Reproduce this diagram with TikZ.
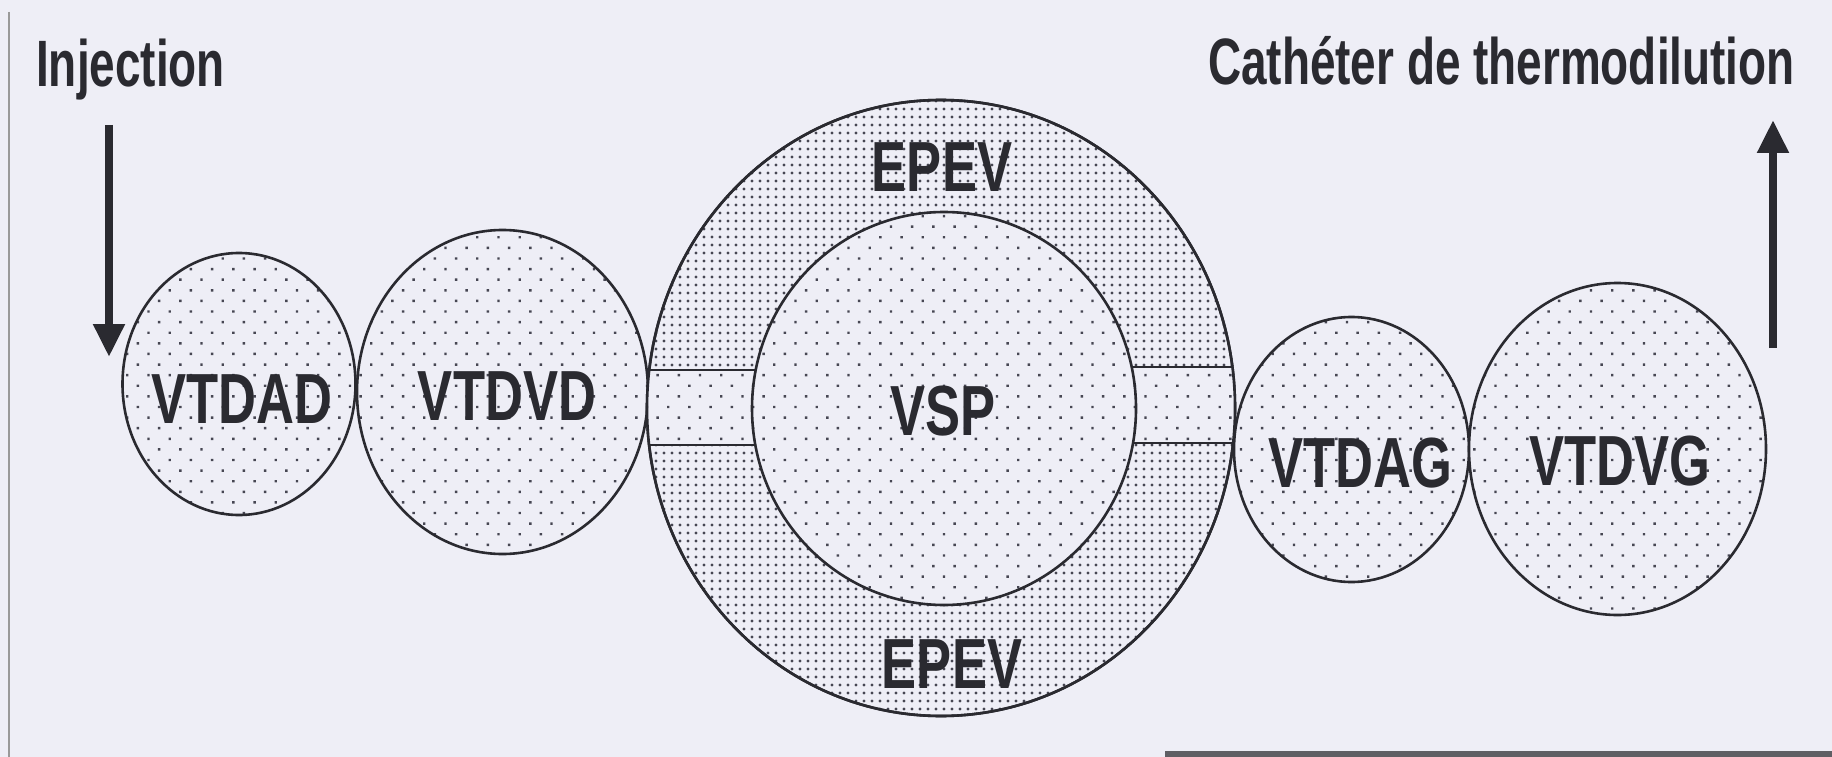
\documentclass[tikz,border=0pt]{standalone}
\usepackage{fontspec}
\newfontfamily\topfont{Liberation Sans}[FakeStretch=0.70]
\newfontfamily\labfont{Liberation Sans}[FakeStretch=0.74]
\usetikzlibrary{patterns.meta,arrows.meta,shapes.geometric}
\definecolor{bg}{RGB}{238,238,246}
\definecolor{ink}{RGB}{42,42,48}
\definecolor{dotc}{RGB}{70,70,82}
\tikzset{
  sparse/.style={preaction={fill=bg}, pattern={Dots[distance=15pt,radius=1.7pt,angle=45]}, pattern color=dotc},
  dense/.style={preaction={fill=bg}, pattern={Dots[distance=8pt,radius=1.7pt]}, pattern color=dotc},
  outline/.style={draw=ink, line width=2.6pt},
  compart/.style={ellipse, inner sep=0pt, outer sep=0pt, outline},
  lab/.style={font=\labfont\bfseries\fontsize{71}{71}\selectfont, text=ink, inner sep=0pt, anchor=base},
  toplab/.style={font=\topfont\bfseries\fontsize{65.6}{66}\selectfont, text=ink, inner sep=0pt},
  bigarrow/.style={draw=ink, line width=8pt, -{Triangle[width=30pt,length=33pt]}},
}
\begin{document}
\begin{tikzpicture}[x=1pt,y=-1pt]
\useasboundingbox (0,0) rectangle (1832,757);
\fill[bg] (0,0) rectangle (1832,757);
\draw[gray!80, line width=1.8pt] (9,12) -- (9,757);
\fill[ink!75] (1165,751) rectangle (1832,757);

% texts
\node[toplab, anchor=base west] (inj) at (36,87) {Injection};
\node[toplab, anchor=base east] (cath) at (1795,85) {Cathéter de thermodilution};

% arrows
\coordinate (injtop) at (109,125);
\coordinate (injtip) at (109,357);
\coordinate (cathbot) at (1773,348);
\coordinate (cathtip) at (1773,120);
\draw[bigarrow] (injtop) -- (injtip);
\draw[bigarrow] (cathbot) -- (cathtip);

% small compartments
\node[compart, sparse, minimum width=233pt, minimum height=262pt] (vtdad) at (239,384) {};
\node[compart, sparse, minimum width=291pt, minimum height=324pt] (vtdvd) at (502.5,392) {};
\node[compart, sparse, minimum width=235pt, minimum height=265pt] (vtdag) at (1351.5,449.5) {};
\node[compart, sparse, minimum width=297pt, minimum height=332pt] (vtdvg) at (1617.5,449) {};

% EPEV ring
\node[compart, dense, minimum width=588pt, minimum height=616pt] (epev) at (941,408) {};
\begin{scope}
  \clip (941,408) ellipse [x radius=294, y radius=308];
  \path[sparse] (600,370) rectangle (800,445);
  \path[sparse] (1090,367) rectangle (1280,443);
  \draw[outline] (600,370) -- (800,370);
  \draw[outline] (600,445) -- (800,445);
  \draw[outline] (1090,367) -- (1280,367);
  \draw[outline] (1090,443) -- (1280,443);
\end{scope}
\draw[outline] (941,408) ellipse [x radius=294, y radius=308];
\node[compart, sparse, minimum width=384pt, minimum height=393pt] (vsp) at (944,408.5) {};

% labels
\node[lab] (lvtdad) at (242,423) {VTDAD};
\node[lab] (lvtdvd) at (507,420) {VTDVD};
\node[lab] (lvtdag) at (1360,487) {VTDAG};
\node[lab] (lvtdvg) at (1620,485) {VTDVG};
\node[lab] (lvsp) at (943,435) {VSP};
\node[lab] (lepev1) at (942,191) {EPEV};
\node[lab] (lepev2) at (952,688) {EPEV};
\end{tikzpicture}
\end{document}
